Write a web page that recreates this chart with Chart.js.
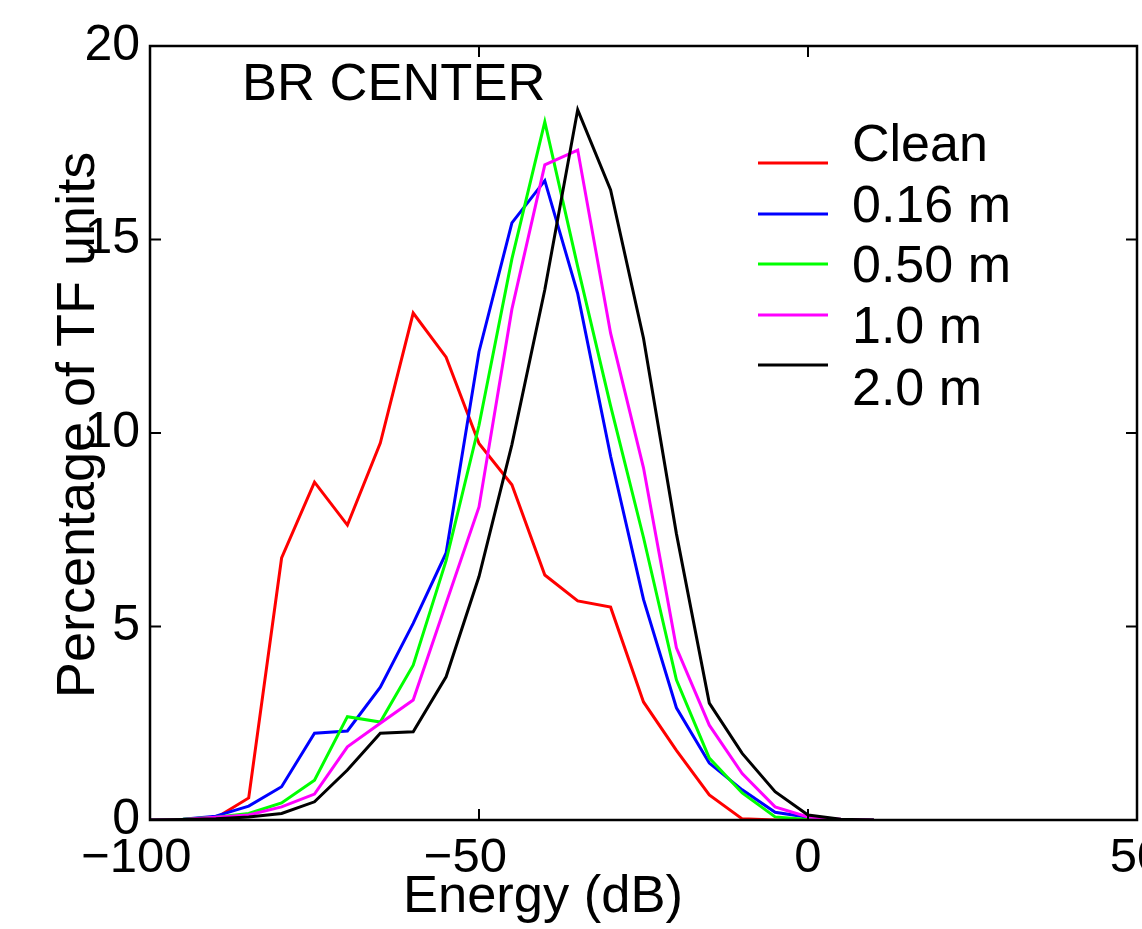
<!DOCTYPE html>
<html><head><meta charset="utf-8">
<script src="https://cdn.jsdelivr.net/npm/chart.js@4"></script>
<style>html,body{margin:0;padding:0;background:#fff;}#wrap{width:1142px;height:929px;}</style>
</head><body><div id="wrap"><canvas id="c" width="1142" height="929"></canvas></div>
<script>
// ---- data ----
const energyDb = [-100,-95,-90,-85,-80,-75,-70,-65,-60,-55,-50,-45,-40,-35,-30,-25,-20,-15,-10,-5,0,5,10];
const clean   = [0,0.01,0.05,0.57,6.77,8.73,7.62,9.74,13.1,11.96,9.73,8.66,6.33,5.66,5.5,3.05,1.8,0.65,0.03,0,0,0,0];
const m016    = [0,0.02,0.1,0.36,0.86,2.24,2.3,3.43,5.08,6.9,12.1,15.43,16.52,13.6,9.4,5.7,2.9,1.47,0.78,0.2,0.07,0,0];
const m050    = [0,0.02,0.07,0.17,0.44,1.03,2.67,2.53,4.0,6.7,10.2,14.5,18.04,14.3,10.7,7.3,3.62,1.6,0.7,0.08,0.01,0,0];
const m10     = [0,0.01,0.07,0.13,0.34,0.67,1.89,2.5,3.1,5.6,8.09,13.2,16.93,17.31,12.58,9.1,4.45,2.45,1.2,0.34,0.08,0.02,0];
const m20     = [0,0.01,0.03,0.08,0.17,0.47,1.29,2.24,2.28,3.7,6.29,9.7,13.7,18.35,16.28,12.45,7.4,3.02,1.72,0.73,0.13,0.02,0];
const seriesLabels = ['Clean','0.16 m','0.50 m','1.0 m','2.0 m'];
const seriesColors = ['#ff0000','#0000ff','#00ff00','#ff00ff','#000000'];
const seriesValues = [clean, m016, m050, m10, m20];
const xTicks = [-100,-50,0,50];
const yTicks = [0,5,10,15,20];
const xTitle = 'Energy (dB)';
const yTitle = 'Percentage of TF units';
const panelLabel = 'BR CENTER';

const FONT = "'Liberation Sans', Arial, Helvetica, sans-serif";

const datasets = seriesValues.map((vals, i) => ({
  label: seriesLabels[i],
  data: energyDb.map((x, j) => ({x: x, y: vals[j]})),
  borderColor: seriesColors[i],
  backgroundColor: seriesColors[i],
  borderWidth: 3,
  pointRadius: 0,
  tension: 0,
  fill: false,
  order: -i
}));

const decor = {
  id: 'decor',
  afterDatasetsDraw(chart) {
    const ctx = chart.ctx, a = chart.chartArea;
    const xs = chart.scales.x, ys = chart.scales.y;
    ctx.save();
    ctx.strokeStyle = '#000';
    ctx.lineWidth = 2.5;
    ctx.strokeRect(a.left, a.top, a.right - a.left, a.bottom - a.top);
    ctx.lineWidth = 2;
    const tl = 11;
    ctx.beginPath();
    xTicks.forEach(v => {
      const px = xs.getPixelForValue(v);
      if (px <= a.left + 1 || px >= a.right - 1) return;
      ctx.moveTo(px, a.bottom); ctx.lineTo(px, a.bottom - tl);
      ctx.moveTo(px, a.top); ctx.lineTo(px, a.top + tl);
    });
    yTicks.forEach(v => {
      const py = ys.getPixelForValue(v);
      if (py <= a.top + 1 || py >= a.bottom - 1) return;
      ctx.moveTo(a.left, py); ctx.lineTo(a.left + tl, py);
      ctx.moveTo(a.right, py); ctx.lineTo(a.right - tl, py);
    });
    ctx.stroke();

    // axis titles
    ctx.fillStyle = '#000';
    ctx.textAlign = 'center';
    ctx.textBaseline = 'alphabetic';
    ctx.font = '52.5px ' + FONT;
    ctx.fillText(xTitle, 543, 912);
    ctx.save();
    ctx.translate(94, 425);
    ctx.rotate(-Math.PI / 2);
    ctx.font = '54px ' + FONT;
    ctx.fillText(yTitle, 0, 0);
    ctx.restore();

    // panel label
    ctx.textAlign = 'left';
    ctx.font = '52.5px ' + FONT;
    ctx.fillText(panelLabel, 242, 100);

    // legend
    const lineY = [163, 214, 264, 315, 365];
    const textY = [161, 222, 282, 343, 405];
    ctx.font = '52px ' + FONT;
    chart.data.datasets.forEach((ds, i) => {
      ctx.strokeStyle = ds.borderColor;
      ctx.lineWidth = 3;
      ctx.beginPath();
      ctx.moveTo(758, lineY[i]); ctx.lineTo(828, lineY[i]);
      ctx.stroke();
      ctx.fillStyle = '#000';
      ctx.fillText(ds.label, 852, textY[i]);
    });
    ctx.restore();
  }
};

new Chart(document.getElementById('c'), {
  type: 'line',
  data: { datasets: datasets },
  options: {
    responsive: false,
    animation: false,
    devicePixelRatio: 1,
    layout: { padding: { top: 46, right: 5, left: 0, bottom: 0 } },
    plugins: { legend: { display: false }, tooltip: { enabled: false } },
    scales: {
      x: {
        type: 'linear', min: -100, max: 50,
        afterBuildTicks: s => { s.ticks = xTicks.map(v => ({value: v})); },
        afterFit: s => { s.height = 109; s.paddingLeft = 0; s.paddingRight = 0; s.paddingTop = 0; s.paddingBottom = 0; },
        grid: { display: false, drawTicks: false },
        border: { display: false },
        ticks: {
          color: '#000', padding: 9, maxRotation: 0, autoSkip: false,
          font: { family: FONT, size: 49 },
          // MATLAB-style: digits centred on the tick, minus sign hanging to the left
          callback: v => v < 0 ? '\u2212' + String(Math.abs(v)) + '  ' : String(v)
        }
      },
      y: {
        type: 'linear', min: 0, max: 20,
        afterBuildTicks: s => { s.ticks = yTicks.map(v => ({value: v})); },
        afterFit: s => { s.width = 150; s.paddingTop = 0; s.paddingBottom = 0; s.paddingLeft = 0; s.paddingRight = 0; },
        grid: { display: false, drawTicks: false },
        border: { display: false },
        ticks: {
          color: '#000', padding: 10, autoSkip: false,
          font: { family: FONT, size: 50 }
        }
      }
    }
  },
  plugins: [decor]
});
</script>
</body></html>
